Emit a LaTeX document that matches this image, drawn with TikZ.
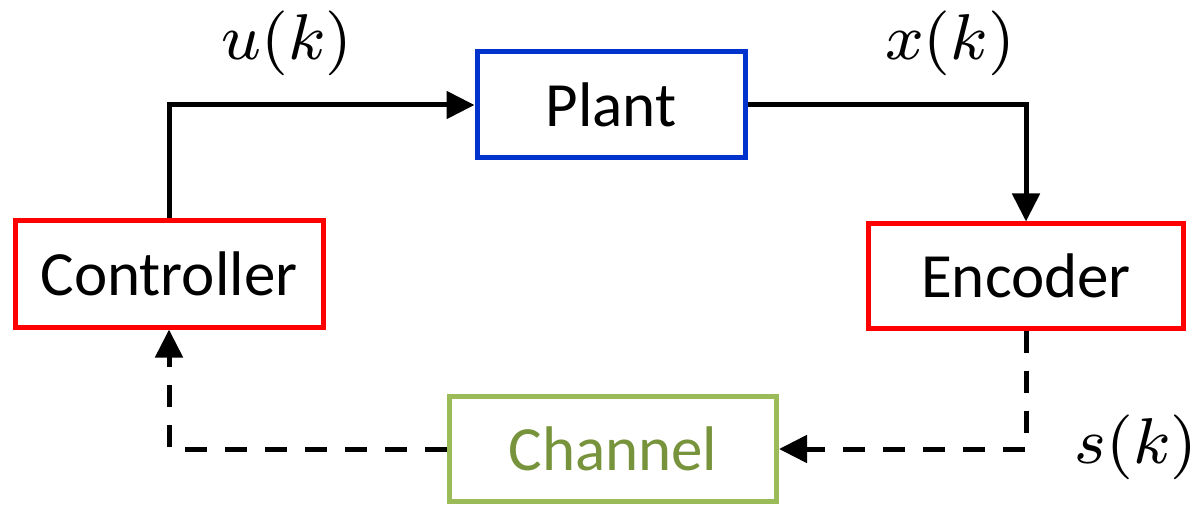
\RequirePackage{fix-cm}
\documentclass[tikz,border=0pt]{standalone}
\usepackage{graphicx}
\usepackage{fontspec}
\setmainfont{Carlito}
\usetikzlibrary{arrows.meta}
\definecolor{plantblue}{RGB}{0,51,204}
\definecolor{boxred}{RGB}{255,0,0}
\definecolor{chgreen}{RGB}{155,187,89}
\definecolor{chtext}{RGB}{119,147,60}
% signal names: 8pt math enlarged, which keeps the wide small-size spacing
\newcommand{\bigsig}[1]{\scalebox{8.1}{\fontsize{8}{10}\selectfont$#1$}}
\tikzset{
  block/.style={draw, rectangle, line width=5pt, inner sep=0pt,
    font=\fontsize{63}{70}\selectfont},
  sig/.style={line width=5pt, -{Triangle[length=28pt,width=27pt]}},
  link/.style={sig, dash pattern=on 22pt off 18pt},
  lab/.style={inner sep=0pt}
}
\begin{document}
\begin{tikzpicture}[x=1pt,y=-1pt]
  \useasboundingbox (0,0) rectangle (1200,505);
  % blocks
  \node[block, draw=plantblue, minimum width=268pt, minimum height=106pt] (plant) at (611,105) {Plant};
  \node[block, draw=boxred, minimum width=308pt, minimum height=106pt] (ctrl) at (169,274) {Controller};
  \node[block, draw=boxred, minimum width=315pt, minimum height=104pt] (enc) at (1026,276) {Encoder};
  \node[block, draw=chgreen, text=chtext, minimum width=327pt, minimum height=105pt] (chan) at (613,449) {Channel};
  % signal labels
  \node[lab] (u) at (287,43) {\bigsig{u(k)}};
  \node[lab] (x) at (950,43) {\bigsig{x(k)}};
  \node[lab] (s) at (1136,447) {\bigsig{s(k)}};
  % loop connectors
  \draw[sig] (ctrl.north) |- (plant.west);
  \draw[sig] (plant.east) -| (enc.north);
  \draw[link] (enc.south) |- (chan.east);
  \draw[link] (chan.west) -| (ctrl.south);
\end{tikzpicture}
\end{document}
